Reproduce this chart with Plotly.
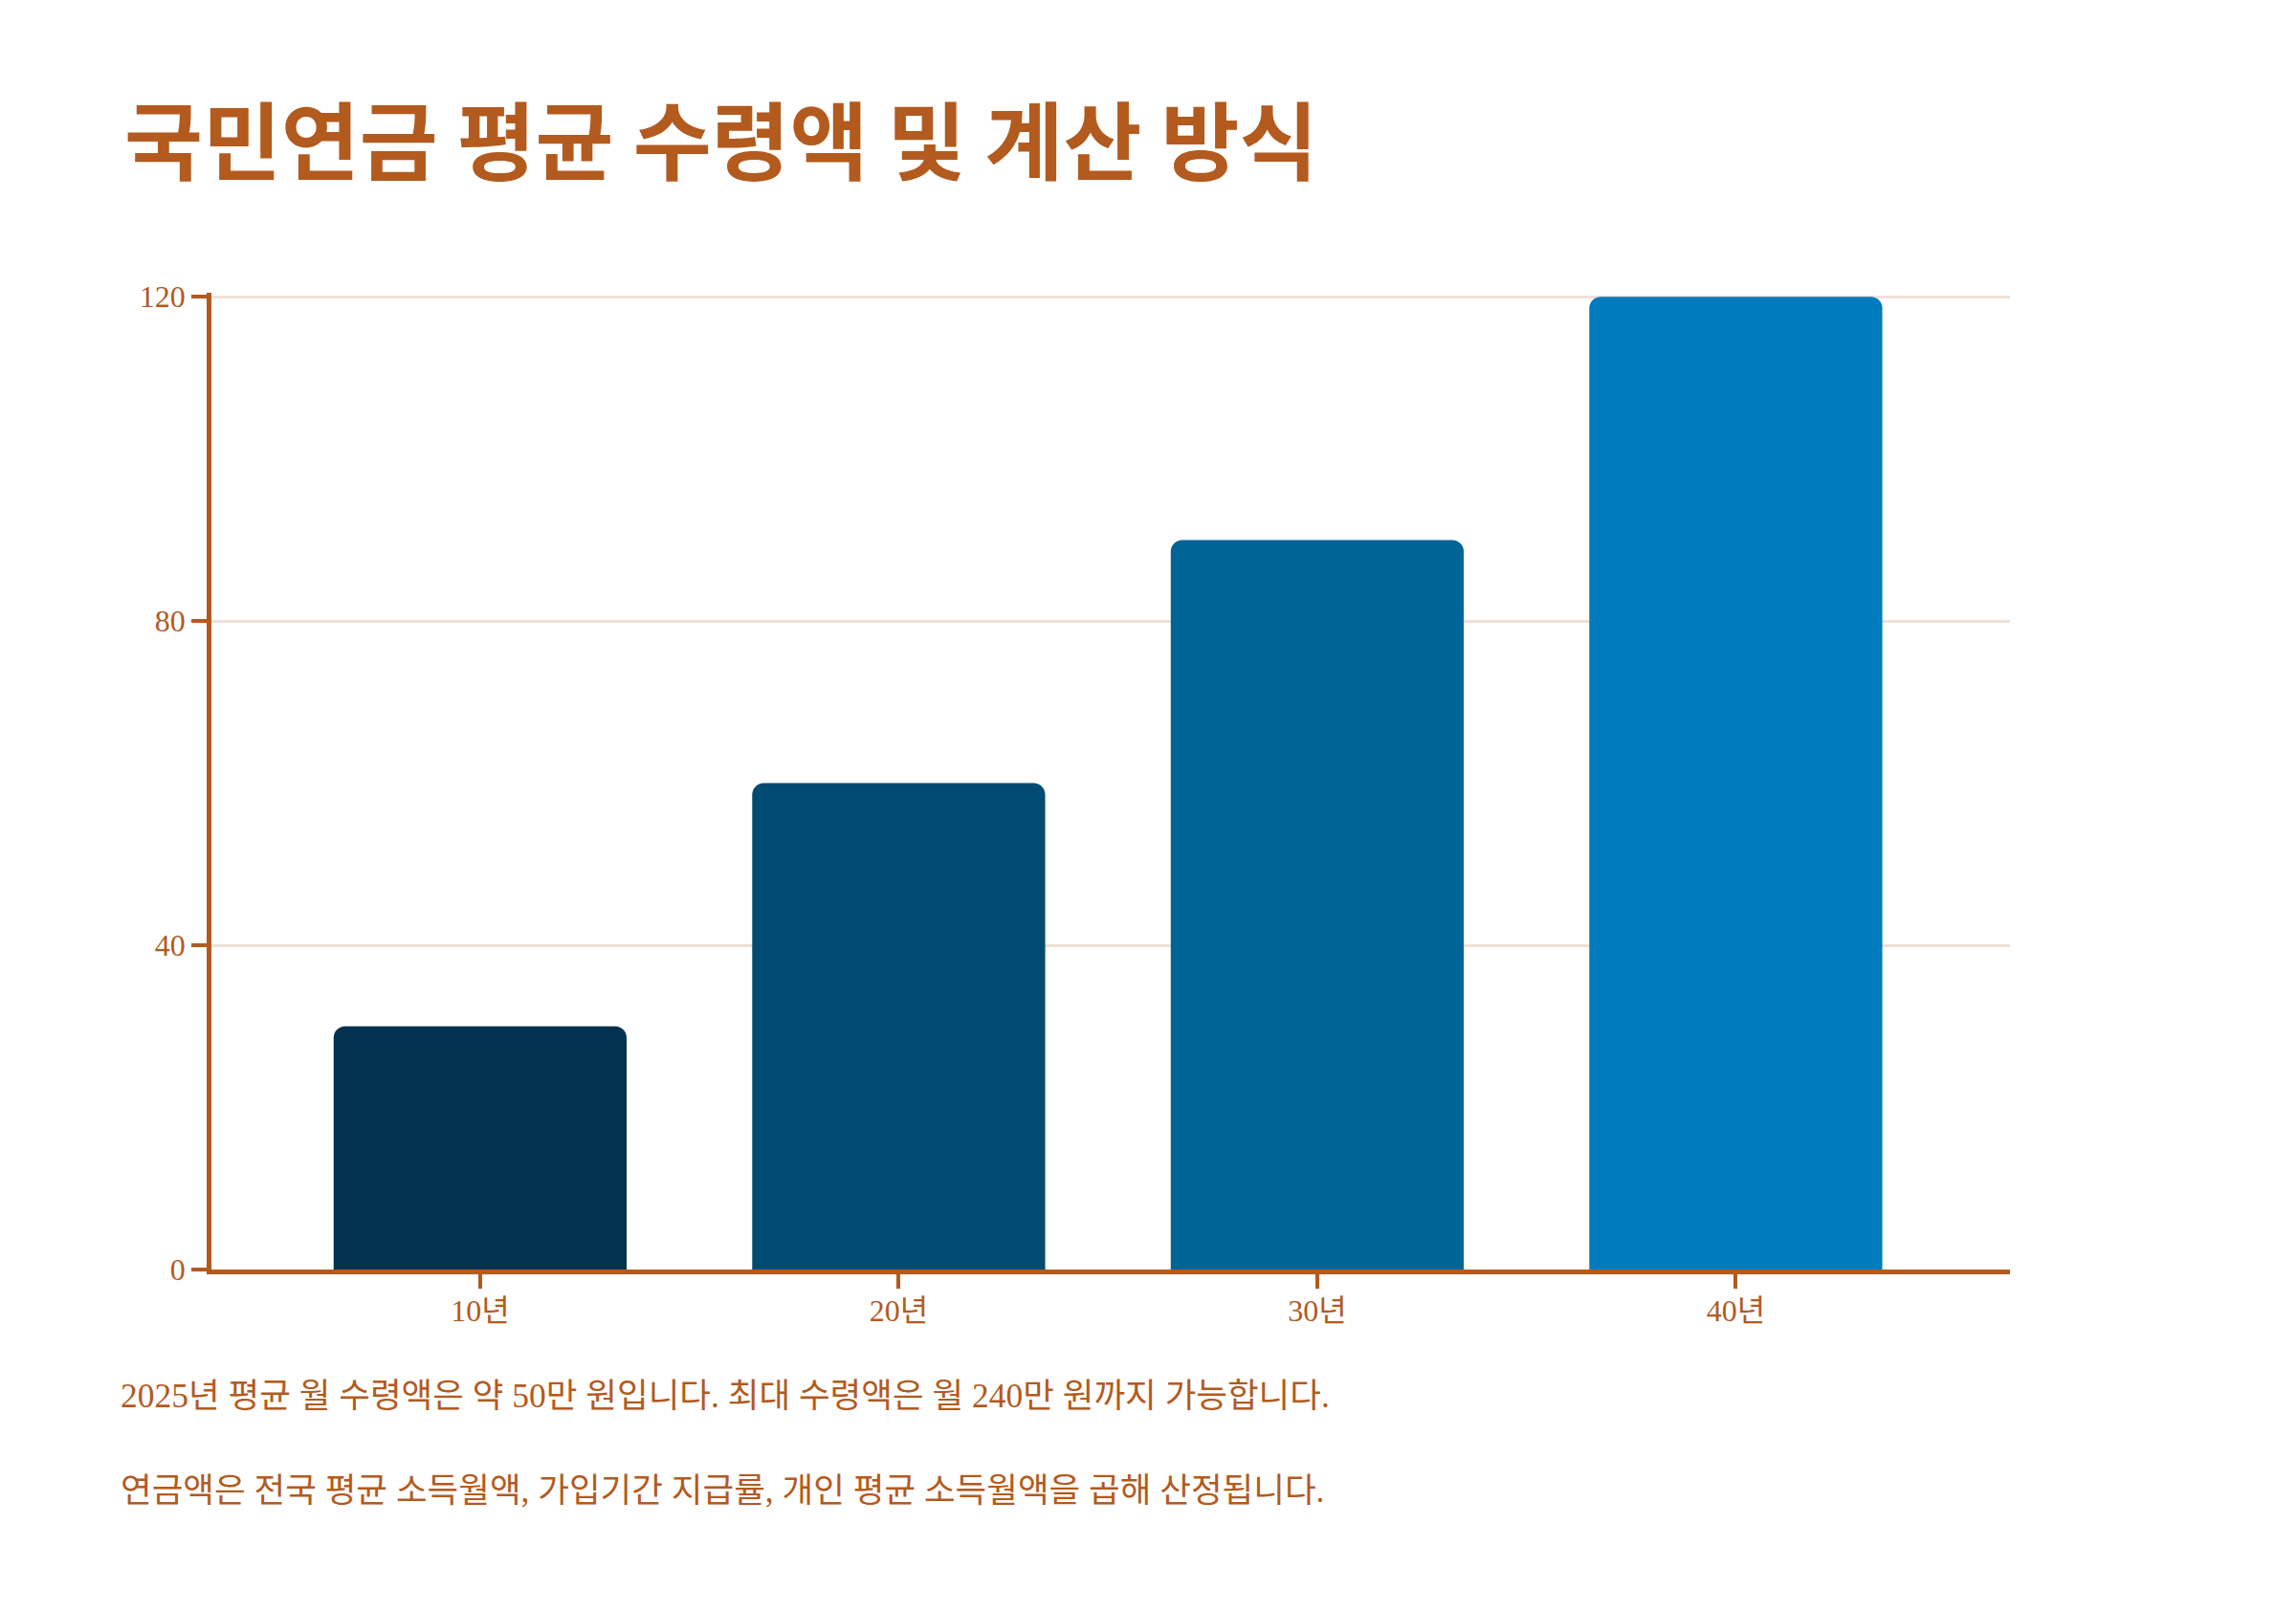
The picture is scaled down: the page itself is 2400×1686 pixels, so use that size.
import plotly.graph_objects as go

categories = ["10년", "20년", "30년", "40년"]
values = [30, 60, 90, 120]
bar_colors = ["#02324f", "#014b72", "#006496", "#007bbd"]
y_ticks = [0, 40, 80, 120]

title_text = "국민연금 평균 수령액 및 계산 방식"
notes = [
    "2025년 평균 월 수령액은 약 50만 원입니다. 최대 수령액은 월 240만 원까지 가능합니다.",
    "연금액은 전국 평균 소득월액, 가입기간 지급률, 개인 평균 소득월액을 곱해 산정됩니다.",
]

ACCENT = "#b35a1e"
GRID = "#efe0d6"
FONT = "Liberation Serif, Noto Sans CJK KR, serif"

W, H = 2400, 1686
# the page body adds an 8px offset; positions below are compensated
L, R, T, B = 213, 307, 298, 367
plot_w = W - L - R
plot_h = H - T - B

fig = go.Figure(
    go.Bar(
        x=categories,
        y=values,
        width=0.7,
        marker=dict(color=bar_colors, line=dict(width=0), cornerradius=12),
        hoverinfo="skip",
    )
)

fig.update_layout(
    width=W,
    height=H,
    margin=dict(l=L, r=R, t=T, b=B, pad=0),
    paper_bgcolor="white",
    plot_bgcolor="white",
    showlegend=False,
    font=dict(family=FONT, size=32, color=ACCENT),
    title=dict(
        text=title_text,
        xref="container",
        yref="container",
        x=122 / W,
        xanchor="left",
        y=1 - 142 / H,
        yanchor="middle",
        font=dict(family="Noto Sans CJK KR", size=89, color=ACCENT, weight="bold"),
    ),
    xaxis=dict(
        type="category",
        range=[-0.642, 3.655],
        showline=True,
        linecolor=ACCENT,
        linewidth=4.5,
        ticks="outside",
        ticklen=15,
        tickwidth=4,
        tickcolor=ACCENT,
        ticklabelstandoff=-4,
        showgrid=False,
        zeroline=False,
        tickfont=dict(family=FONT, size=32, color=ACCENT),
    ),
    yaxis=dict(
        range=[0, 120.5],
        tickvals=y_ticks,
        ticktext=[str(v) for v in y_ticks],
        showline=True,
        linecolor=ACCENT,
        linewidth=4.5,
        ticks="outside",
        ticklen=16,
        tickwidth=4,
        tickcolor=ACCENT,
        showgrid=True,
        gridcolor=GRID,
        gridwidth=2.5,
        zeroline=False,
        tickfont=dict(family=FONT, size=32, color=ACCENT),
    ),
)

note_y_px = [1451, 1550]
for txt, ypx in zip(notes, note_y_px):
    fig.add_annotation(
        text=txt,
        xref="paper",
        yref="paper",
        x=(116 - L) / plot_w,
        y=(H - B - ypx) / plot_h,
        xanchor="left",
        yanchor="middle",
        showarrow=False,
        font=dict(family=FONT, size=35.5, color=ACCENT),
    )

fig.write_html("out.html")
